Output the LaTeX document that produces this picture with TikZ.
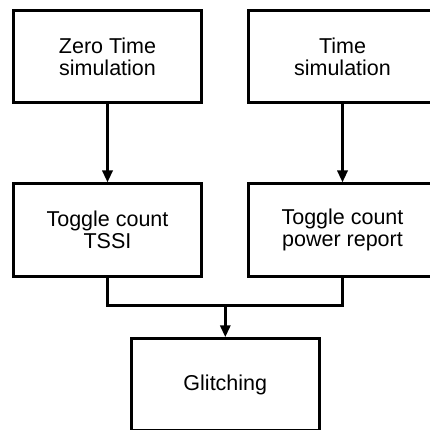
\documentclass[tikz,border=0pt]{standalone}
\usepackage{fontspec}
\setmainfont{Liberation Sans}
\usetikzlibrary{arrows.meta}
\tikzset{
  box/.style={draw=black, line width=3pt, fill=white, minimum width=188pt, minimum height=92pt,
    inner sep=0pt, align=center, font=\fontsize{21.5}{21.7}\selectfont},
  conn/.style={draw=black, line width=3pt},
  arr/.style={conn, -{Triangle[length=12pt,width=10pt]}}
}
\begin{document}
\begin{tikzpicture}[x=1pt,y=-1pt]
\useasboundingbox (0,0) rectangle (430,430);
\node[box] (A) at (107.5,56.7) {Zero Time\\simulation};
\node[box] (B) at (342.5,56.7) {Time\\simulation};
\node[box] (C) at (107.5,230) {Toggle count\\TSSI};
\node[box] (D) at (342.5,230) {Toggle count\\power report};
\node[box] (E) at (225.3,384.8) {Glitching};
\coordinate (j) at (225.3,305.7);
\draw[arr] (A.south) -- (C.north);
\draw[arr] (B.south) -- (D.north);
\draw[conn] (C.south) |- (j) -| (D.south);
\draw[arr] (j) -- (E.north);
\end{tikzpicture}
\end{document}
